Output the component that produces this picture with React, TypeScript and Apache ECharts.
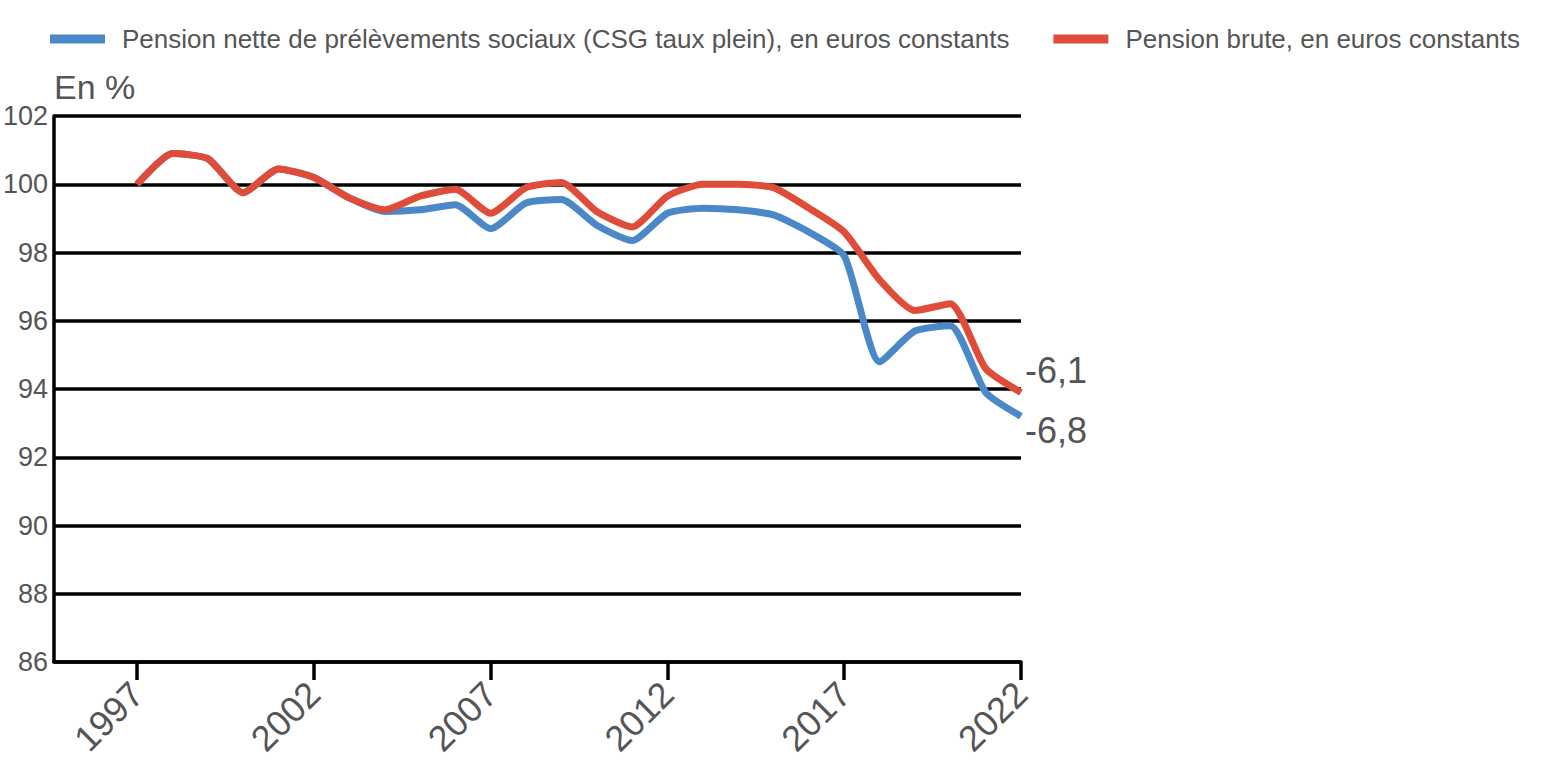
import React, { useEffect, useRef } from "react";
import * as echarts from "echarts";

const years = [
  1997, 1998, 1999, 2000, 2001, 2002, 2003, 2004, 2005, 2006, 2007, 2008, 2009,
  2010, 2011, 2012, 2013, 2014, 2015, 2016, 2017, 2018, 2019, 2020, 2021, 2022,
];
const netValues = [
  100.0, 100.9, 100.75, 99.75, 100.45, 100.2, 99.6, 99.2, 99.25, 99.4, 98.7, 99.45, 99.55,
  98.8, 98.35, 99.15, 99.3, 99.25, 99.1, 98.6, 97.9, 94.8, 95.7, 95.85, 93.9, 93.2,
];
const grossValues = [
  100.0, 100.9, 100.75, 99.75, 100.45, 100.2, 99.6, 99.25, 99.65, 99.85, 99.15, 99.9, 100.05,
  99.2, 98.75, 99.65, 100.0, 100.0, 99.9, 99.3, 98.6, 97.2, 96.3, 96.5, 94.6, 93.9,
];
const xTickYears = [1997, 2002, 2007, 2012, 2017, 2022];
const seriesNames = [
  "Pension nette de prélèvements sociaux (CSG taux plein), en euros constants",
  "Pension brute, en euros constants",
];
const endLabelTexts = ["-6,8", "-6,1"];
const yAxisTitle = "En %";

const TEXT = "#555555";
const NUM_FONT = "'Liberation Sans', Arial, sans-serif";

export default function App() {
  const ref = useRef<HTMLDivElement>(null);
  useEffect(() => {
    if (!ref.current) return;
    const chart = echarts.init(ref.current, null, { renderer: "svg" });
    const toPairs = (vals: number[]) => years.map((y, i) => [y, vals[i]]);
    chart.setOption({
      animation: false,
      backgroundColor: "#ffffff",
      legend: {
        left: 45,
        top: 21,
        width: 1540,
        icon: "rect",
        itemWidth: 55,
        itemHeight: 9,
        itemGap: 44,
        textStyle: {
          fontSize: 26,
          fontFamily: NUM_FONT,
          color: TEXT,
          padding: [0, 0, 0, 12],
        },
        data: seriesNames,
      },
      grid: {
        left: 54,
        right: 530,
        top: 116,
        bottom: 102,
        containLabel: false,
        outerBoundsMode: "none",
      },
      xAxis: {
        type: "value",
        min: 1994.65,
        max: 2022,
        axisLine: { show: true, lineStyle: { color: "#000", width: 3.5 } },
        axisTick: {
          show: true,
          customValues: xTickYears,
          length: 18,
          lineStyle: { color: "#000", width: 3.5 },
        },
        axisLabel: {
          customValues: xTickYears,
          rotate: 45,
          margin: 26,
          fontSize: 36,
          fontFamily: NUM_FONT,
          color: TEXT,
          formatter: (v: number) => String(v),
        },
        splitLine: { show: false },
      },
      yAxis: {
        type: "value",
        min: 86,
        max: 102,
        interval: 2,
        name: yAxisTitle,
        nameLocation: "end",
        nameGap: 12,
        nameTextStyle: {
          align: "left",
          fontSize: 34,
          fontFamily: NUM_FONT,
          color: TEXT,
        },
        axisLine: { show: true, lineStyle: { color: "#000", width: 3.5 } },
        axisTick: { show: false },
        axisLabel: {
          margin: 6,
          fontSize: 27,
          fontFamily: NUM_FONT,
          color: TEXT,
        },
        splitLine: { show: true, lineStyle: { color: "#000", width: 3.5 } },
      },
      series: [
        {
          name: seriesNames[0],
          type: "line",
          data: toPairs(netValues),
          symbol: "none",
          smooth: 0.2,
          color: "#4a88c8",
          lineStyle: { width: 7, color: "#4a88c8" },
          endLabel: {
            show: true,
            formatter: () => endLabelTexts[0],
            fontSize: 36,
            fontFamily: NUM_FONT,
            color: TEXT,
            distance: 4,
            offset: [0, 14],
          },
          z: 2,
        },
        {
          name: seriesNames[1],
          type: "line",
          data: toPairs(grossValues),
          symbol: "none",
          smooth: 0.2,
          color: "#e04c3a",
          lineStyle: { width: 7, color: "#e04c3a" },
          endLabel: {
            show: true,
            formatter: () => endLabelTexts[1],
            fontSize: 36,
            fontFamily: NUM_FONT,
            color: TEXT,
            distance: 4,
            offset: [0, -22],
          },
          z: 3,
        },
      ],
    });
    return () => chart.dispose();
  }, []);
  return (
    <div
      ref={ref}
      style={{ position: "absolute", left: 0, top: 0, width: 1551, height: 764 }}
    />
  );
}
